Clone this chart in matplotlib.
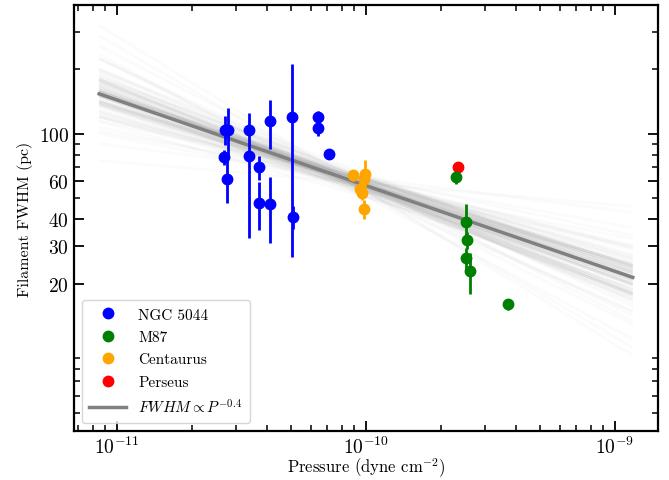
import numpy as np
import matplotlib
matplotlib.use("Agg")
import matplotlib.pyplot as plt
from matplotlib.ticker import FixedLocator, ScalarFormatter, NullFormatter, LogLocator
from matplotlib.lines import Line2D

plt.rcParams['font.family'] = 'serif'
plt.rcParams['font.serif'] = ['cmr10']
plt.rcParams['mathtext.fontset'] = 'cm'
plt.rcParams['axes.formatter.use_mathtext'] = True

# ---------------- data ----------------
ngc_p = [2.72e-11, 2.81e-11, 2.70e-11, 2.78e-11, 3.39e-11, 3.39e-11, 3.74e-11, 3.74e-11,
         4.13e-11, 4.13e-11, 5.07e-11, 5.11e-11, 6.45e-11, 6.45e-11, 7.14e-11]
ngc_w = [104.8, 104.8, 77.8, 61.7, 104.8, 78.7, 69.9, 47.7,
         114.6, 47.0, 119.6, 40.9, 119.6, 106.3, 80.8]
ngc_e = [16, 28, 6, 14, 4, 46, 9, 12, 30, 16, 93, 5, 8.5, 8, 2]

m87_p = [2.31e-10, 2.53e-10, 2.55e-10, 2.53e-10, 2.62e-10, 3.71e-10]
m87_w = [62.8, 38.9, 31.9, 26.2, 22.9, 16.0]
m87_e = [4.7, 8, 3, 3, 5, 0.9]

cen_p = [8.91e-11, 9.94e-11, 9.87e-11, 9.44e-11, 9.70e-11, 9.87e-11]
cen_w = [64.0, 65.3, 61.3, 55.6, 53.0, 44.8]
cen_e = [3.7, 10, 4, 4, 4, 4.6]

per_p = [2.35e-10]
per_w = [69.9]

fit_norm = 57.4      # pc at P = 1e-10
fit_index = -0.4
fit_prange = [8.5e-12, 1.18e-9]

# posterior sample lines (slope, offset in dex at pivot P = 10^-10.1)
sample_pivot = -10.1
sample_slopes = [-0.40, -0.33, -0.47, -0.38, -0.52, -0.29, -0.44, -0.36, -0.41, -0.58,
                 -0.25, -0.43, -0.39, -0.31, -0.49, -0.35, -0.45, -0.42, -0.62, -0.21,
                 -0.37, -0.46, -0.34, -0.40, -0.54, -0.28, -0.48, -0.39, -0.32, -0.44,
                 -0.68, -0.15, -0.41, -0.36, -0.50, -0.30, -0.43, -0.38, -0.56, -0.26,
                 -0.45, -0.35, -0.40, -0.47, -0.33, -0.42, -0.37, -0.60, -0.23, -0.51,
                 -0.29, -0.44, -0.39, -0.34, -0.48, -0.41, -0.72, -0.10, -0.38, -0.43,
                 -0.40, -0.42, -0.37, -0.44, -0.39, -0.41, -0.36, -0.45, -0.38, -0.43,
                 -0.35, -0.46, -0.40, -0.34, -0.47, -0.41, -0.39, -0.42, -0.33, -0.48,
                 -0.40, -0.38, -0.43, -0.36, -0.44, -0.41, -0.37, -0.45, -0.39, -0.42,
                 -0.31, -0.50, -0.40, -0.35, -0.46, -0.38, -0.43, -0.41, -0.39, -0.40]
sample_offsets = [0.00, 0.02, -0.01, 0.03, -0.02, 0.01, -0.03, 0.00, 0.04, -0.01,
                  0.02, -0.04, 0.01, -0.02, 0.03, 0.00, -0.01, 0.05, -0.03, 0.01,
                  0.02, -0.02, 0.00, -0.05, 0.03, 0.01, -0.01, 0.02, -0.03, 0.04,
                  0.00, 0.01, -0.02, 0.03, -0.04, 0.02, 0.00, -0.01, 0.01, -0.02,
                  0.06, -0.03, 0.01, 0.00, -0.06, 0.02, -0.01, 0.03, -0.02, 0.01,
                  0.00, 0.04, -0.03, 0.02, -0.01, 0.00, 0.01, -0.02, 0.03, -0.04,
                  0.01, -0.01, 0.00, 0.02, -0.02, 0.01, 0.00, -0.01, 0.02, -0.02,
                  0.00, 0.01, -0.03, 0.02, 0.00, -0.01, 0.03, 0.00, -0.02, 0.01,
                  -0.01, 0.02, 0.00, -0.01, 0.01, 0.00, 0.02, -0.02, 0.01, -0.01,
                  0.00, 0.01, 0.02, -0.01, 0.00, 0.03, -0.02, 0.01, 0.00, -0.01]

y_ticks = [20, 30, 40, 60, 100]

# ---------------- plot ----------------
fig = plt.figure(figsize=(6.69, 4.81), dpi=100)
ax = fig.add_axes([74/669, 49/481, 584/669, 426/481])
ax.set_xscale('log')
ax.set_yscale('log')

pp = np.logspace(np.log10(fit_prange[0]), np.log10(fit_prange[1]), 50)
lp = np.log10(pp)
base_pivot = np.log10(fit_norm) + fit_index * (sample_pivot + 10)
for s, o in zip(sample_slopes, sample_offsets):
    ax.plot(pp, 10 ** (base_pivot + o + s * (lp - sample_pivot)),
            color='gray', alpha=0.03, lw=2, zorder=1, solid_capstyle='butt')

ax.plot(pp, fit_norm * (pp / 1e-10) ** fit_index, color='gray', lw=2.5, zorder=2)

ms = 7.5
ax.errorbar(ngc_p, ngc_w, yerr=ngc_e, fmt='o', color='blue', ms=ms, elinewidth=2, capsize=0, zorder=3)
ax.errorbar(m87_p, m87_w, yerr=m87_e, fmt='o', color='green', ms=ms, elinewidth=2, capsize=0, zorder=3)
ax.errorbar(cen_p, cen_w, yerr=cen_e, fmt='o', color='orange', ms=ms, elinewidth=2, capsize=0, zorder=3)
ax.plot(per_p, per_w, 'o', color='red', ms=ms, zorder=3)

ax.set_xlim(6.74e-12, 1.49e-9)
ax.set_ylim(4.1, 400)

ax.yaxis.set_major_locator(FixedLocator(y_ticks))
ax.yaxis.set_major_formatter(ScalarFormatter())
ax.yaxis.set_minor_locator(LogLocator(base=10, subs=np.arange(2, 10), numticks=20))
ax.yaxis.set_minor_formatter(NullFormatter())

ax.tick_params(which='both', direction='in', top=True, right=True, labelsize=14)
ax.tick_params(which='major', length=7, width=1.3)
ax.tick_params(which='minor', length=4, width=1.1)
for sp in ax.spines.values():
    sp.set_linewidth(1.6)

ax.set_xlabel(r'Pressure (dyne cm$^{-2}$)', fontsize=12, labelpad=-1)
ax.set_ylabel('Filament FWHM (pc)', fontsize=11.5)

handles = [
    Line2D([], [], marker='o', ls='none', color='blue', ms=ms),
    Line2D([], [], marker='o', ls='none', color='green', ms=ms),
    Line2D([], [], marker='o', ls='none', color='orange', ms=ms),
    Line2D([], [], marker='o', ls='none', color='red', ms=ms),
    Line2D([], [], color='gray', lw=2.5),
]
labels = ['NGC 5044', 'M87', 'Centaurus', 'Perseus', r'$FWHM \propto P^{-0.4}$']
ax.legend(handles, labels, loc='lower left', fontsize=11, labelspacing=0.57,
          handlelength=2.4, handletextpad=0.8, borderpad=0.5, framealpha=0.8)

fig.savefig('out.png', dpi=100)
